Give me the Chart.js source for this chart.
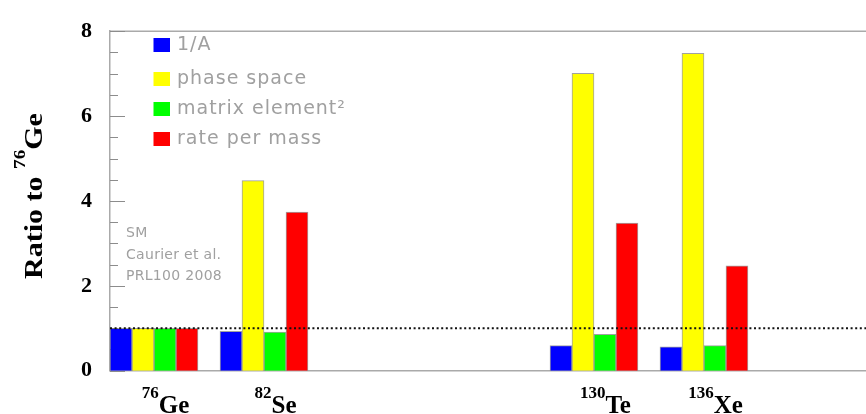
<!DOCTYPE html>
<html>
<head>
<meta charset="utf-8">
<title>Ratio to 76Ge</title>
<script src="https://cdn.jsdelivr.net/npm/chart.js@4.4.1/dist/chart.umd.min.js"></script>
<style>
  html, body { margin: 0; padding: 0; background: #ffffff; }
  canvas { display: block; }
</style>
</head>
<body>
<canvas id="chart" width="866" height="414"></canvas>
<script>
// Isotopes (element symbol + mass number)
const elements = ['Ge', 'Se', 'Te', 'Xe'];
const massNumbers = ['76', '82', '130', '136'];

// Ratios to 76Ge for each quantity
const seriesNames = ['1/A', 'phase space', 'matrix element\u00B2', 'rate per mass'];
const invMass = [1.00, 0.93, 0.59, 0.56];
const phaseSpace = [1.00, 4.48, 7.01, 7.48];
const matrixElementSq = [1.00, 0.91, 0.855, 0.59];
const ratePerMass = [1.00, 3.74, 3.48, 2.47];

// Y axis ticks
const yTicks = [0, 2, 4, 6, 8];
const referenceLevel = 1;

// Annotation text
const noteLines = ['SM', 'Caurier et al.', 'PRL100 2008'];

// ---- layout / styling ----
const groupSlots = [0, 1, 4, 5];          // x-axis slot of each isotope group
const seriesColors = ['#0000ff', '#ffff00', '#00ff00', '#ff0000'];
const seriesValues = [invMass, phaseSpace, matrixElementSq, ratePerMass];
const axisGray = '#aaaaaa';
const textGray = '#a0a0a0';
const serif = '"Liberation Serif", "Times New Roman", serif';
const sans = '"DejaVu Sans", Verdana, sans-serif';

const datasets = seriesNames.map((name, s) => ({
  label: name,
  data: elements.map((_, i) => ({ x: groupSlots[i], y: seriesValues[s][i] })),
  backgroundColor: seriesColors[s],
  borderColor: 'rgba(110,110,110,0.65)',
  borderWidth: 1,
  barThickness: 22
}));

function drawRich(ctx, parts, x, baseline) {
  // parts: [{text, size, raise}] drawn left to right
  let cx = x;
  for (const p of parts) {
    ctx.font = 'bold ' + p.size + 'px ' + serif;
    ctx.fillText(p.text, cx, baseline - p.raise);
    cx += ctx.measureText(p.text).width;
  }
}
function richWidth(ctx, parts) {
  let w = 0;
  for (const p of parts) {
    ctx.font = 'bold ' + p.size + 'px ' + serif;
    w += ctx.measureText(p.text).width;
  }
  return w;
}

const decorations = {
  id: 'decorations',
  beforeDatasetsDraw(chart) {
    const ctx = chart.ctx;
    const area = chart.chartArea;
    const y = chart.scales.y;
    ctx.save();
    // top frame line
    ctx.strokeStyle = axisGray;
    ctx.lineWidth = 1.5;
    ctx.beginPath();
    ctx.moveTo(area.left, area.top);
    ctx.lineTo(area.right, area.top);
    ctx.stroke();
    // inward tick marks on the left axis
    ctx.strokeStyle = '#8c8c8c';
    ctx.lineWidth = 1;
    for (let v = y.min; v <= y.max + 1e-9; v += 0.5) {
      const py = Math.round(y.getPixelForValue(v)) + 0.5;
      const len = (Math.abs(v % 2) < 1e-9) ? 15 : 8;
      ctx.beginPath();
      ctx.moveTo(area.left, py);
      ctx.lineTo(area.left + len, py);
      ctx.stroke();
    }
    ctx.restore();
  },
  afterDatasetsDraw(chart) {
    const ctx = chart.ctx;
    const area = chart.chartArea;
    const xs = chart.scales.x;
    const ys = chart.scales.y;
    ctx.save();

    // dotted reference line at ratio 1
    const ry = ys.getPixelForValue(referenceLevel);
    ctx.strokeStyle = '#111111';
    ctx.lineWidth = 2;
    ctx.setLineDash([2, 2.6]);
    ctx.beginPath();
    ctx.moveTo(area.left, ry);
    ctx.lineTo(area.right, ry);
    ctx.stroke();
    ctx.setLineDash([]);

    // legend
    const rows = [45, 79, 109, 139];
    ctx.font = '19px ' + sans;
    ctx.textBaseline = 'middle';
    ctx.textAlign = 'left';
    if ('letterSpacing' in ctx) ctx.letterSpacing = '1px';
    chart.data.datasets.forEach((ds, i) => {
      ctx.fillStyle = ds.backgroundColor;
      ctx.fillRect(153.5, rows[i] - 7, 16.5, 14);
      ctx.fillStyle = textGray;
      ctx.fillText(ds.label, 177, rows[i]);
    });

    // annotation
    ctx.font = '14px ' + sans;
    if ('letterSpacing' in ctx) ctx.letterSpacing = '0.3px';
    const noteY = [233, 255, 276];
    noteLines.forEach((t, i) => ctx.fillText(t, 126, noteY[i]));
    if ('letterSpacing' in ctx) ctx.letterSpacing = '0px';

    // isotope labels under the groups
    ctx.fillStyle = '#000000';
    ctx.textBaseline = 'alphabetic';
    elements.forEach((el, i) => {
      const parts = [
        { text: massNumbers[i], size: 17, raise: 15 },
        { text: el, size: 25, raise: 0 }
      ];
      const w = richWidth(ctx, parts);
      const cx = xs.getPixelForValue(groupSlots[i]) + 11.5;
      drawRich(ctx, parts, cx - w / 2, 412.5);
    });

    // y axis title (text slightly stretched along its baseline)
    const titleParts = [
      { text: 'Ratio to ', size: 25, raise: 0 },
      { text: '76', size: 16, raise: 17 },
      { text: 'Ge', size: 25, raise: 0 }
    ];
    ctx.translate(42, 196);
    ctx.rotate(-Math.PI / 2);
    ctx.scale(1.2, 1);
    const tw = richWidth(ctx, titleParts);
    drawRich(ctx, titleParts, -tw / 2, 0);

    ctx.restore();
  }
};

new Chart(document.getElementById('chart'), {
  type: 'bar',
  data: { datasets },
  options: {
    responsive: false,
    animation: false,
    devicePixelRatio: 1,
    layout: { padding: { top: 17.5, right: 0, bottom: 0, left: 0 } },
    plugins: {
      legend: { display: false },
      tooltip: { enabled: false }
    },
    scales: {
      x: {
        type: 'linear',
        offset: false,
        min: -0.4,
        max: 6.473,
        ticks: { display: false, stepSize: 1 },
        grid: { display: false, drawTicks: false },
        border: { display: true, color: axisGray, width: 1.5 },
        afterFit(scale) { scale.height = 43.3; }
      },
      y: {
        min: 0,
        max: 8,
        afterBuildTicks(scale) { scale.ticks = yTicks.map(v => ({ value: v })); },
        ticks: {
          padding: 18,
          color: '#000000',
          font: { family: serif, weight: 'bold', size: 22 }
        },
        grid: { display: false, drawTicks: false },
        border: { display: true, color: axisGray, width: 1.5 },
        afterFit(scale) { scale.width = 110; }
      }
    }
  },
  plugins: [decorations]
});
</script>
</body>
</html>
